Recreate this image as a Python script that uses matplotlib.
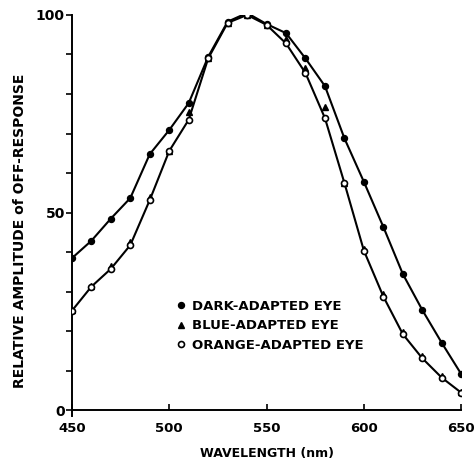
import matplotlib
matplotlib.use("Agg")
import matplotlib.pyplot as plt

# wavelength (nm) and relative off-response amplitude
wavelength = [450, 460, 470, 480, 490, 500, 510, 520, 530, 540, 550,
              560, 570, 580, 590, 600, 610, 620, 630, 640, 650]
dark = [38.5, 42.9, 48.5, 53.7, 64.8, 70.9, 77.7, 89.4, 98.3, 100.5, 97.7,
        95.4, 89.0, 82.0, 68.8, 57.8, 46.4, 34.5, 25.4, 17.1, 9.2]
blue = [25.5, 31.5, 36.5, 42.5, 54.0, 65.5, 75.5, 89.0, 98.0, 100.0, 97.5,
        94.0, 86.5, 76.7, 57.5, 40.8, 29.4, 19.8, 13.8, 8.6, 4.8]
orange = [25.2, 31.3, 35.8, 41.8, 53.2, 65.6, 73.5, 89.0, 98.0, 100.0, 97.5,
          92.8, 85.3, 73.9, 57.5, 40.4, 28.8, 19.3, 13.2, 8.3, 4.5]

labels = ["DARK-ADAPTED EYE", "BLUE-ADAPTED EYE", "ORANGE-ADAPTED EYE"]
x_ticks = [450, 500, 550, 600, 650]
y_ticks = [0, 50, 100]

plt.rcParams['font.family'] = ['DejaVu Sans']
plt.rcParams['font.weight'] = 'bold'

fig = plt.figure(figsize=(4.76, 4.67), dpi=100)
ax = fig.add_axes([0.151, 0.121, 0.818, 0.847])

# curves
ax.plot(wavelength, dark, color='black', lw=1.5, zorder=2)
ax.plot(wavelength, orange, color='black', lw=1.5, zorder=2)

# points
h1, = ax.plot(wavelength, dark, 'o', color='black', ms=4.3, ls='none', zorder=3)
h2, = ax.plot(wavelength, blue, '^', color='black', ms=4.3, ls='none', zorder=3)
h3, = ax.plot(wavelength, orange, 'o', mfc='white', mec='black', mew=1.2,
              ms=4.3, ls='none', zorder=4)

ax.set_xlim(450, 650)
ax.set_ylim(0, 100)

ax.spines['top'].set_visible(False)
ax.spines['right'].set_visible(False)
ax.spines['left'].set_linewidth(1.4)
ax.spines['bottom'].set_linewidth(1.4)
ax.spines['left'].set_bounds(-1.5, 100)

ax.set_xticks(x_ticks)
ax.set_xticklabels([str(v) for v in x_ticks], fontsize=9.5, fontweight='bold')
ax.set_yticks(y_ticks)
ax.set_yticklabels([str(v) for v in y_ticks], fontsize=10, fontweight='bold')
ax.set_yticks(range(0, 101, 10), minor=True)
ax.tick_params(axis='x', direction='in', length=4, width=1.2, pad=8)
ax.tick_params(axis='y', which='both', direction='out', length=4, width=1.2, pad=1)

ax.set_xlabel("WAVELENGTH (nm)", fontsize=9, fontweight='bold', labelpad=9)
ax.set_ylabel("RELATIVE AMPLITUDE of OFF-RESPONSE", fontsize=10, fontweight='bold')
ax.yaxis.set_label_coords(-0.115, 0.454)

leg = ax.legend([h1, h2, h3], labels, loc='upper left',
                bbox_to_anchor=(0.24, 0.31), frameon=False,
                handlelength=0.6, handletextpad=0.5, labelspacing=0.5,
                prop={'size': 9.5, 'weight': 'bold'})

plt.savefig("out.png", dpi=100)
